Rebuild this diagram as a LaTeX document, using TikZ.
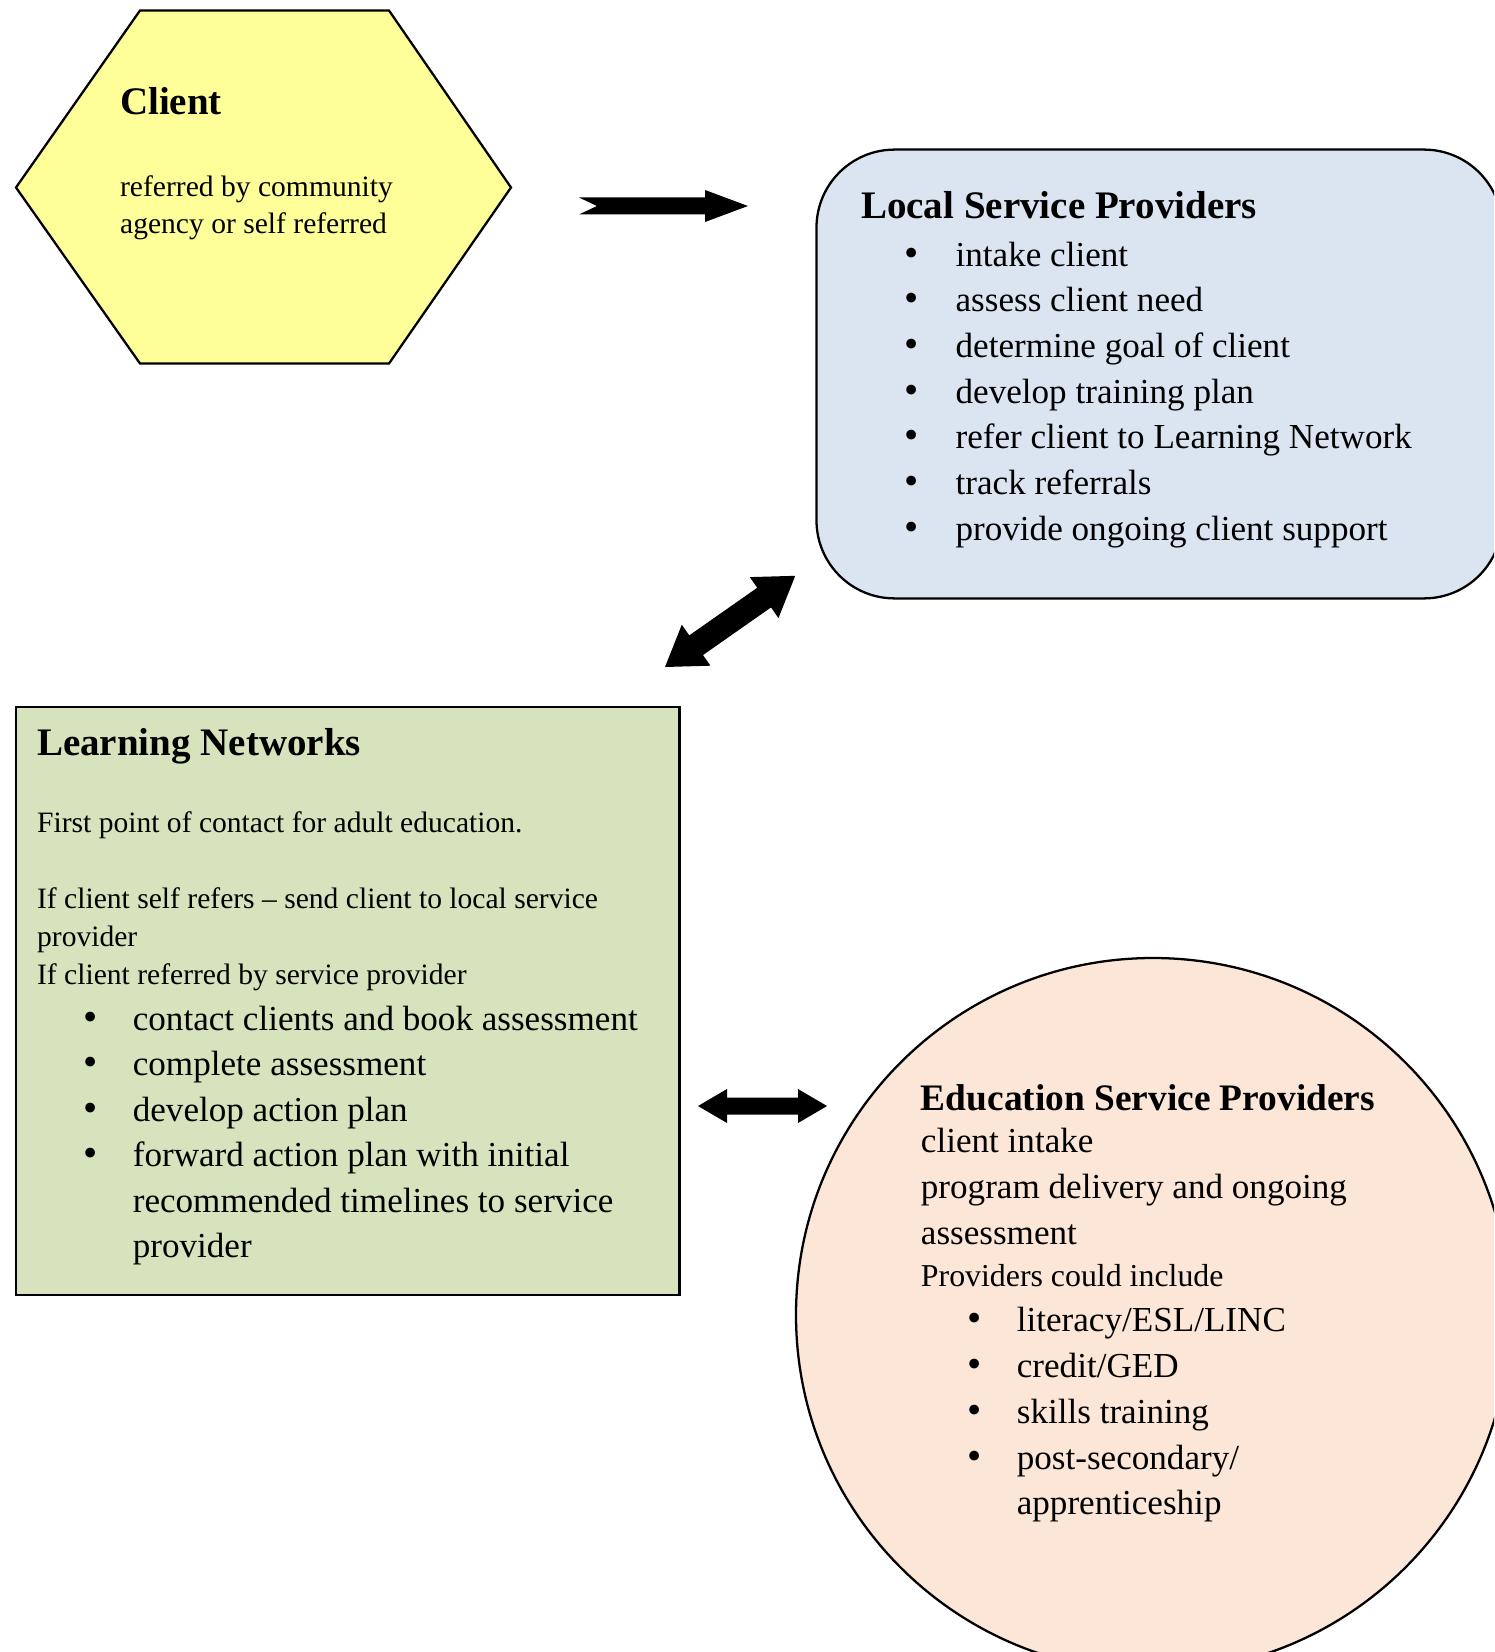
\documentclass[tikz,border=0pt]{standalone}
\usepackage{fontspec}
\setmainfont{Liberation Serif}
\definecolor{hexyellow}{HTML}{FFFF99}
\definecolor{lspblue}{HTML}{DBE5F1}
\definecolor{lngreen}{HTML}{D7E3BC}
\definecolor{esppeach}{HTML}{FBE6D8}
\begin{document}
\begin{tikzpicture}[x=0.3077pt,y=-0.3077pt,line width=0.7pt,
  body/.style={anchor=base west,inner sep=0pt,font=\fontsize{10.8}{13}\selectfont},
  smalltext/.style={anchor=base west,inner sep=0pt,font=\fontsize{9.1}{11}\selectfont},
  ttl/.style={anchor=base west,inner sep=0pt,font=\fontsize{12}{14}\selectfont\bfseries},
  bul/.style={anchor=base,inner sep=0pt,font=\fontsize{12.5}{14}\selectfont},
  blockarrow/.style={fill=black,draw=none}]
\useasboundingbox (0,0) rectangle (1494,1652);
\clip (0,0) rectangle (1494,1652);

% --- shapes ---
\draw[fill=hexyellow] (16,187.5) -- (140,10.5) -- (389,10.5) -- (511,187.5) -- (389,363.5) -- (140,363.5) -- cycle;
\draw[fill=lspblue,rounded corners=24pt] (816.5,149.6) rectangle (1502,598.4);
\draw[fill=lngreen] (16,707) rectangle (679.6,1295);
\draw[fill=esppeach] (1153,1315) circle[radius=357];

% --- arrows ---
\coordinate (a1s) at (579,206);
\coordinate (a1e) at (748,206);
\fill[blockarrow] (579,197.5) -- (705,197.5) -- (705,190) -- (a1e) -- (705,222) -- (705,214.5) -- (579,214.5) -- (597,206) -- cycle;

\coordinate (a2s) at (665,667);
\coordinate (a2e) at (795,576);
\begin{scope}[shift={(a2s)},rotate=35]
\fill[blockarrow] (0,0) -- (38,-25) -- (38,-12) -- (121,-12) -- (121,-25) -- (159,0) -- (121,25) -- (121,12) -- (38,12) -- (38,25) -- cycle;
\end{scope}

\coordinate (a3s) at (698,1106);
\coordinate (a3e) at (827,1106);
\fill[blockarrow] (a3s) -- (727,1089) -- (727,1097.5) -- (798,1097.5) -- (798,1089) -- (a3e) -- (798,1123) -- (798,1114.5) -- (727,1114.5) -- (727,1123) -- cycle;

% --- Client ---
\node[ttl] (clientT) at (119,115) {Client};
\node[smalltext] (client1) at (119,196.7) {referred by community};
\node[smalltext] (client2) at (119,234) {agency or self referred};

% --- Local Service Providers ---
\node[ttl] (lspT) at (860,219) {Local Service Providers};
\foreach \t [count=\i] in {intake client,assess client need,determine goal of client,develop training plan,refer client to Learning Network,track referrals,provide ongoing client support}{
  \pgfmathsetmacro\yy{266+(\i-1)*45.7}
  \node[bul] (lspb\i) at (912,\yy) {\textbullet};
  \node[body] (lsp\i) at (954.5,\yy) {\t};
}

% --- Learning Networks ---
\node[ttl] (lnT) at (36,755) {Learning Networks};
\node[smalltext] (ln1) at (36,832) {First point of contact for adult education.};
\node[smalltext] (ln2) at (36,908) {If client self refers – send client to local service};
\node[smalltext] (ln3) at (36,946) {provider};
\node[smalltext] (ln4) at (36,984) {If client referred by service provider};
\foreach \t [count=\i] in {contact clients and book assessment,complete assessment,develop action plan,forward action plan with initial}{
  \pgfmathsetmacro\yy{1030+(\i-1)*45.5}
  \node[bul] (lnb\i) at (90.6,\yy) {\textbullet};
  \node[body] (lnl\i) at (131.7,\yy) {\t};
}
\node[body] (lnl5) at (131.7,1212) {recommended timelines to service};
\node[body] (lnl6) at (131.7,1257) {provider};

% --- Education Service Providers ---
\node[ttl,font=\fontsize{11.5}{14}\selectfont\bfseries] (espT) at (919.8,1110) {Education Service Providers};
\node[body] (esp1) at (919.8,1152) {client intake};
\node[body] (esp2) at (919.8,1198) {program delivery and ongoing};
\node[body] (esp3) at (919.8,1244) {assessment};
\node[smalltext,font=\fontsize{9.8}{12}\selectfont] (esp4) at (919.8,1286) {Providers could include};
\foreach \t [count=\i] in {literacy/ESL/LINC,credit/GED,skills training,post-secondary/}{
  \pgfmathsetmacro\yy{1331+(\i-1)*46}
  \node[bul] (espb\i) at (974.6,\yy) {\textbullet};
  \node[body] (espl\i) at (1015.7,\yy) {\t};
}
\node[body] (espl5) at (1015.7,1514) {apprenticeship};
\end{tikzpicture}
\end{document}
